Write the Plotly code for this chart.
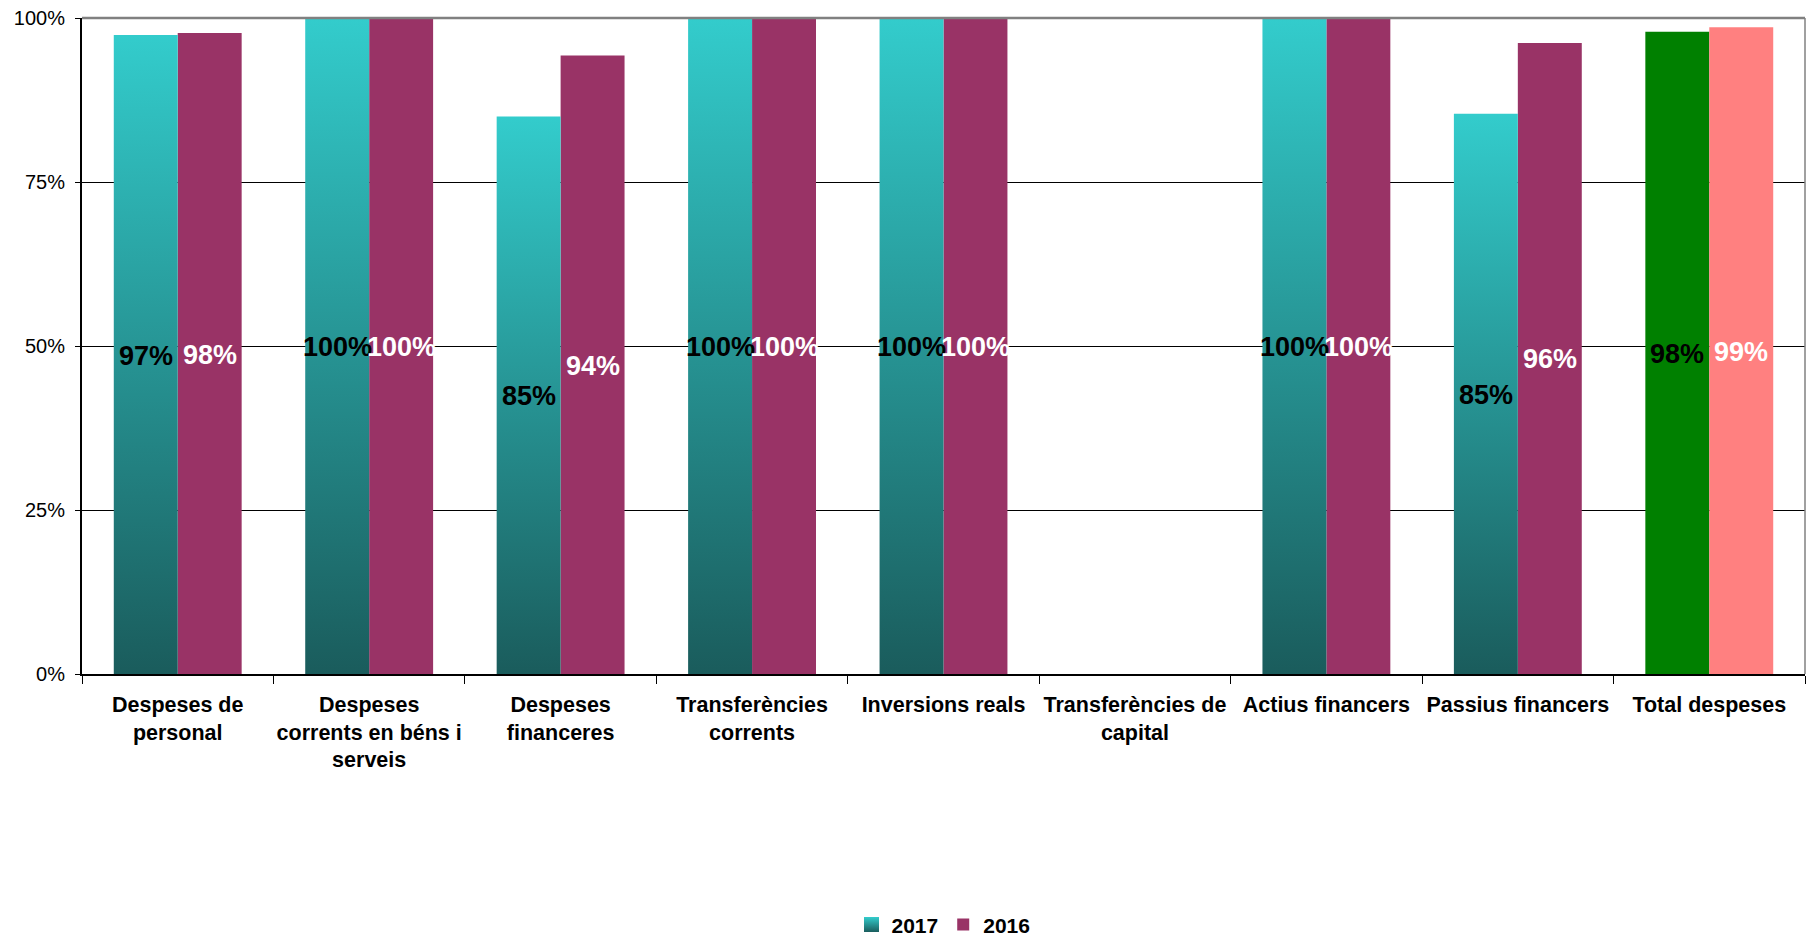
import plotly.graph_objects as go

categories = [
    "Despeses de personal",
    "Despeses corrents en béns i serveis",
    "Despeses financeres",
    "Transferències corrents",
    "Inversions reals",
    "Transferències de capital",
    "Actius financers",
    "Passius financers",
    "Total despeses",
]
tick_labels = [
    "Despeses de<br>personal",
    "Despeses<br>corrents en béns i<br>serveis",
    "Despeses<br>financeres",
    "Transferències<br>corrents",
    "Inversions reals",
    "Transferències de<br>capital",
    "Actius financers",
    "Passius financers",
    "Total despeses",
]
values_2017 = [0.974, 1.0, 0.850, 1.0, 1.0, None, 1.0, 0.854, 0.979]
values_2016 = [0.977, 1.0, 0.943, 1.0, 1.0, None, 1.0, 0.962, 0.986]

W = 0.334
FONT = "Liberation Sans, Arial, sans-serif"
TEAL_TOP = "#33CCCC"
TEAL_BOTTOM = "#1A5C5C"
TEAL_SCALE = [[0, TEAL_BOTTOM], [1, TEAL_TOP]]
PURPLE = "#993366"
GREEN = "#008000"
PINK = "#FF8080"

n = len(categories)
is_total = [c == "Total despeses" for c in categories]

fig = go.Figure()

# legend entry for 2017 (gradient square)
fig.add_trace(go.Scatter(
    x=[None], y=[None],
    mode="markers",
    marker=dict(symbol="square", size=15, color=TEAL_TOP,
                gradient=dict(type="vertical", color=TEAL_BOTTOM),
                line=dict(width=0)),
    name="2017",
    legendgroup="2017",
    showlegend=True,
    hoverinfo="skip",
))

# 2017 gradient bars (fill gradient polygons built from the values)
for i, v in enumerate(values_2017):
    if v is None or is_total[i]:
        continue
    fig.add_trace(go.Scatter(
        x=[i - W, i - W, i, i, i - W],
        y=[0, v, v, 0, 0],
        mode="lines",
        fill="toself",
        fillgradient=dict(type="vertical", colorscale=TEAL_SCALE),
        line=dict(width=0, color=TEAL_TOP),
        name="2017",
        legendgroup="2017",
        showlegend=False,
        hoverinfo="skip",
    ))

# 2017 total bar (solid green), others transparent placeholders
fig.add_trace(go.Bar(
    x=list(range(n)),
    y=values_2017,
    width=W,
    offset=-W,
    marker=dict(
        color=[GREEN if t else "rgba(0,0,0,0)" for t in is_total],
        line=dict(width=0),
    ),
    name="2017",
    showlegend=False,
    customdata=categories,
    hovertemplate="%{customdata}<br>2017: %{y:.0%}<extra></extra>",
))

# 2016 bars
fig.add_trace(go.Bar(
    x=list(range(n)),
    y=values_2016,
    width=W,
    offset=0,
    marker=dict(color=[PINK if t else PURPLE for t in is_total], line=dict(width=0)),
    name="2016",
    legendgroup="2016",
    customdata=categories,
    hovertemplate="%{customdata}<br>2016: %{y:.0%}<extra></extra>",
))

# value labels
annotations = []
for i, v in enumerate(values_2017):
    if v is None:
        continue
    annotations.append(dict(
        x=i - W / 2, y=v / 2, xref="x", yref="y", text=f"{v:.0%}",
        showarrow=False, yshift=-1,
        font=dict(family=FONT, size=27, color="black", weight="bold"),
    ))
for i, v in enumerate(values_2016):
    if v is None:
        continue
    annotations.append(dict(
        x=i + W / 2, y=v / 2, xref="x", yref="y", text=f"{v:.0%}",
        showarrow=False, yshift=-1,
        font=dict(family=FONT, size=27, color="white", weight="bold"),
    ))

fig.update_layout(
    width=1806,
    height=940,
    margin=dict(l=82, r=1, t=18, b=266),
    paper_bgcolor="white",
    plot_bgcolor="white",
    font=dict(family=FONT, color="black"),
    barmode="overlay",
    annotations=annotations,
    legend=dict(
        orientation="h",
        x=0.5, xanchor="center",
        yref="container",
        y=0.016, yanchor="middle",
        font=dict(family=FONT, size=21, color="black", weight="bold"),
        traceorder="normal",
        itemwidth=30,
        tracegroupgap=0,
    ),
    xaxis=dict(
        type="linear",
        range=[-0.5, n - 0.5],
        tickmode="array",
        tickvals=list(range(n)),
        ticktext=tick_labels,
        ticks="",
        showgrid=False,
        zeroline=False,
        showline=True,
        linecolor="black",
        linewidth=1.5,
        tickfont=dict(family=FONT, size=21.5, color="black", weight="bold"),
        ticklabelstandoff=10,
        automargin=False,
        minor=dict(
            tickmode="array",
            tickvals=[k - 0.5 for k in range(n + 1)],
            ticks="outside",
            ticklen=8,
            tickwidth=1,
            tickcolor="black",
            showgrid=False,
        ),
        fixedrange=True,
    ),
    yaxis=dict(
        range=[0, 1],
        tickmode="array",
        tickvals=[0, 0.25, 0.5, 0.75, 1.0],
        tickformat=".0%",
        ticks="outside",
        ticklen=5,
        tickcolor="black",
        showgrid=True,
        gridcolor="black",
        gridwidth=1,
        zeroline=False,
        showline=True,
        linecolor="black",
        linewidth=2,
        tickfont=dict(family=FONT, size=20, color="black"),
        ticklabelstandoff=6,
        automargin=False,
        fixedrange=True,
    ),
    shapes=[
        dict(type="line", xref="paper", yref="paper", x0=0, x1=1, y0=1, y1=1,
             line=dict(color="#808080", width=2.5), layer="above"),
        dict(type="line", xref="paper", yref="paper", x0=1, x1=1, y0=0, y1=1,
             line=dict(color="#808080", width=1.5), layer="above"),
    ],
)

fig.write_html(
    "out.html",
    config={"displayModeBar": False},
    post_script="document.body.style.margin='0';document.body.style.overflow='hidden';",
)
